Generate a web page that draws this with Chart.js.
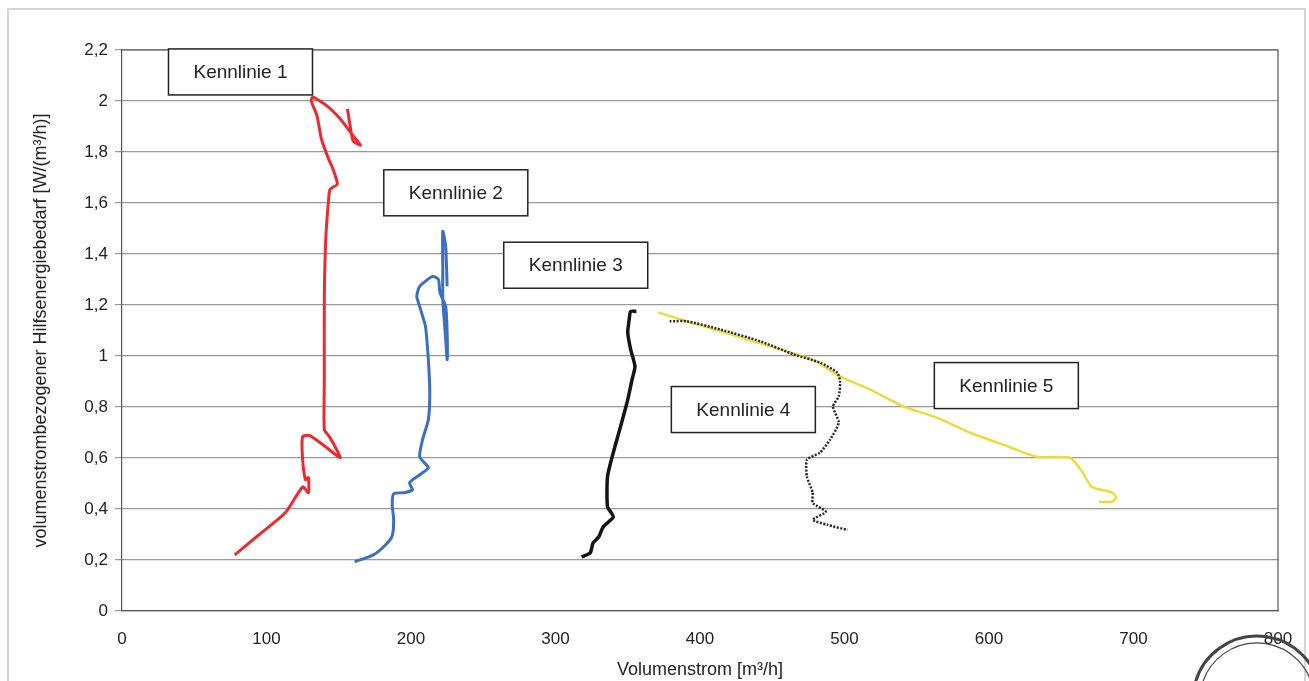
<!DOCTYPE html>
<html>
<head>
<meta charset="utf-8">
<script src="https://cdn.jsdelivr.net/npm/chart.js@4/dist/chart.umd.min.js"></script>
<style>
  html, body { margin: 0; padding: 0; background: #fff; }
  #wrap { width: 1309px; height: 681px; position: relative; }
</style>
</head>
<body>
<div id="wrap"><canvas id="chart"></canvas></div>
<script>
// Kennlinie 1 (rot)
const k1x = [78, 95, 113, 125, 129, 129, 127, 125, 125, 130, 140, 151, 146, 143, 140, 140, 140, 141, 143, 144, 149, 146, 143, 138, 135, 131, 132, 142, 151, 158, 165, 160, 158, 156]
const k1y = [0.22, 0.30, 0.385, 0.487, 0.464, 0.523, 0.515, 0.593, 0.684, 0.688, 0.648, 0.601, 0.66, 0.688, 0.711, 0.908, 1.222, 1.458, 1.615, 1.654, 1.674, 1.733, 1.772, 1.851, 1.941, 2.0, 2.016, 1.98, 1.93, 1.878, 1.827, 1.843, 1.898, 1.969]

// Kennlinie 2 (blau)
const k2x = [161, 174, 183, 187, 188, 187, 188, 195, 201, 199, 208, 212, 206, 208, 212, 213, 212, 210, 206, 204, 206, 215, 219, 220, 224, 225, 225, 224, 222, 222, 222, 224, 225]
const k2y = [0.193, 0.22, 0.263, 0.295, 0.358, 0.417, 0.46, 0.464, 0.475, 0.503, 0.542, 0.562, 0.605, 0.672, 0.75, 0.857, 0.986, 1.116, 1.194, 1.234, 1.273, 1.312, 1.30, 1.25, 1.194, 1.092, 0.986, 1.065, 1.222, 1.34, 1.489, 1.43, 1.273]

// Kennlinie 3 (schwarz)
const k3x = [318, 324, 326, 330, 333, 340, 336, 336, 340, 345, 350, 353, 355, 352, 350, 351, 352, 356]
const k3y = [0.212, 0.228, 0.267, 0.291, 0.33, 0.369, 0.409, 0.527, 0.621, 0.723, 0.829, 0.908, 0.959, 1.026, 1.092, 1.143, 1.175, 1.175]

// Kennlinie 4 (schwarz gepunktet)
const k4x = [379, 391, 414, 442, 465, 483, 495, 497, 496, 492, 496, 490, 483, 474, 474, 478, 478, 487, 478, 488, 502]
const k4y = [1.136, 1.136, 1.104, 1.057, 1.006, 0.974, 0.935, 0.896, 0.841, 0.802, 0.739, 0.672, 0.621, 0.593, 0.527, 0.464, 0.424, 0.389, 0.358, 0.338, 0.318]

// Kennlinie 5 (gelb)
const k5x = [371, 391, 426, 460, 478, 497, 518, 541, 564, 587, 610, 633, 656, 664, 671, 685, 688, 685, 676]
const k5y = [1.171, 1.136, 1.077, 1.018, 0.986, 0.919, 0.868, 0.802, 0.758, 0.699, 0.652, 0.605, 0.601, 0.55, 0.487, 0.465, 0.445, 0.428, 0.428]

const xTicks = [0, 100, 200, 300, 400, 500, 600, 700, 800]
const yTicks = [0, 0.2, 0.4, 0.6, 0.8, 1, 1.2, 1.4, 1.6, 1.8, 2, 2.2]

const labelNames = ["Kennlinie 1", "Kennlinie 2", "Kennlinie 3", "Kennlinie 4", "Kennlinie 5"]
const labelX = [82, 231, 314, 430, 612]
const labelY = [2.114, 1.64, 1.356, 0.79, 0.884]

const pts = (xs, ys) => xs.map((x, i) => ({ x: x, y: ys[i] }))
const font = "'Liberation Sans', Arial, sans-serif"

function line(label, xs, ys, color, width, dash) {
  return {
    label: label,
    data: pts(xs, ys),
    showLine: true,
    borderColor: color,
    backgroundColor: color,
    borderWidth: width,
    borderDash: dash || [],
    pointRadius: 0,
    tension: 0.2,
    fill: false,
  }
}

// Rahmen, Plotbox, Textfelder und Stempel
const framePlugin = {
  id: "frame",
  beforeDraw(chart) {
    const ctx = chart.ctx
    ctx.save()
    ctx.strokeStyle = "#c8c8c8"
    ctx.lineWidth = 1.5
    ctx.beginPath()
    ctx.moveTo(8, 681)
    ctx.lineTo(8, 9)
    ctx.lineTo(1305, 9)
    ctx.lineTo(1305, 681)
    ctx.stroke()
    ctx.restore()
  },
  afterDatasetsDraw(chart) {
    const ctx = chart.ctx
    const a = chart.chartArea
    ctx.save()
    ctx.strokeStyle = "#555"
    ctx.lineWidth = 1.2
    ctx.beginPath()
    ctx.moveTo(a.left, a.top)
    ctx.lineTo(a.right, a.top)
    ctx.lineTo(a.right, a.bottom)
    ctx.stroke()

    const xs = chart.scales.x
    const ys = chart.scales.y
    ctx.font = "19px " + font
    ctx.textAlign = "center"
    ctx.textBaseline = "middle"
    labelNames.forEach((name, i) => {
      const cx = xs.getPixelForValue(labelX[i])
      const cy = ys.getPixelForValue(labelY[i])
      ctx.fillStyle = "#fff"
      ctx.fillRect(cx - 72, cy - 23, 144, 46)
      ctx.strokeStyle = "#222"
      ctx.lineWidth = 1.5
      ctx.strokeRect(cx - 72, cy - 23, 144, 46)
      ctx.fillStyle = "#222"
      ctx.fillText(name, cx, cy + 1)
    })

    ctx.strokeStyle = "#444"
    ctx.lineWidth = 3
    ctx.beginPath()
    ctx.arc(1257, 700, 64, Math.PI * 1.05, Math.PI * 1.95)
    ctx.stroke()
    ctx.lineWidth = 1.2
    ctx.beginPath()
    ctx.arc(1257, 700, 57, Math.PI * 1.05, Math.PI * 1.95)
    ctx.stroke()
    ctx.restore()
  },
}

new Chart(document.getElementById("chart"), {
  type: "scatter",
  data: {
    datasets: [
      line("Kennlinie 1", k1x, k1y, "#ee2a2f", 3),
      line("Kennlinie 2", k2x, k2y, "#3a6fc4", 3),
      line("Kennlinie 3", k3x, k3y, "#141414", 3.5),
      line("Kennlinie 4", k4x, k4y, "#2a2a2a", 2.5, [2, 1.5]),
      line("Kennlinie 5", k5x, k5y, "#ecdc3a", 2.5),
    ],
  },
  options: {
    responsive: true,
    maintainAspectRatio: false,
    animation: false,
    layout: { padding: { top: 50, right: 31, bottom: 0, left: 0 } },
    plugins: {
      legend: { display: false },
      tooltip: { enabled: false },
    },
    scales: {
      x: {
        type: "linear",
        min: 0,
        max: 800,
        afterBuildTicks: (s) => { s.ticks = xTicks.map((v) => ({ value: v })) },
        afterFit: (s) => { s.height = 70 },
        grid: { display: false, drawOnChartArea: false, tickLength: 6, color: "#555" },
        border: { color: "#555", width: 1.2 },
        ticks: { color: "#222", font: { family: font, size: 17 }, padding: 12, maxRotation: 0 },
        title: {
          display: true,
          text: "Volumenstrom [m³/h]",
          color: "#222",
          font: { family: font, size: 18 },
          padding: { top: 0, bottom: 0 },
        },
      },
      y: {
        type: "linear",
        min: 0,
        max: 2.2,
        afterBuildTicks: (s) => { s.ticks = yTicks.map((v) => ({ value: v })) },
        afterFit: (s) => { s.width = 122 },
        grid: { color: "#999", lineWidth: 1.2, tickLength: 7 },
        border: { color: "#555", width: 1.2 },
        ticks: {
          color: "#222",
          font: { family: font, size: 17 },
          padding: 7,
          callback: (v) => String(Math.round(v * 10) / 10).replace(".", ","),
        },
        title: {
          display: true,
          text: "volumenstrombezogener Hilfsenergiebedarf [W/(m³/h)]",
          color: "#222",
          font: { family: font, size: 18 },
          padding: { top: 30, bottom: 0 },
        },
      },
    },
  },
  plugins: [framePlugin],
})
</script>
</body>
</html>
